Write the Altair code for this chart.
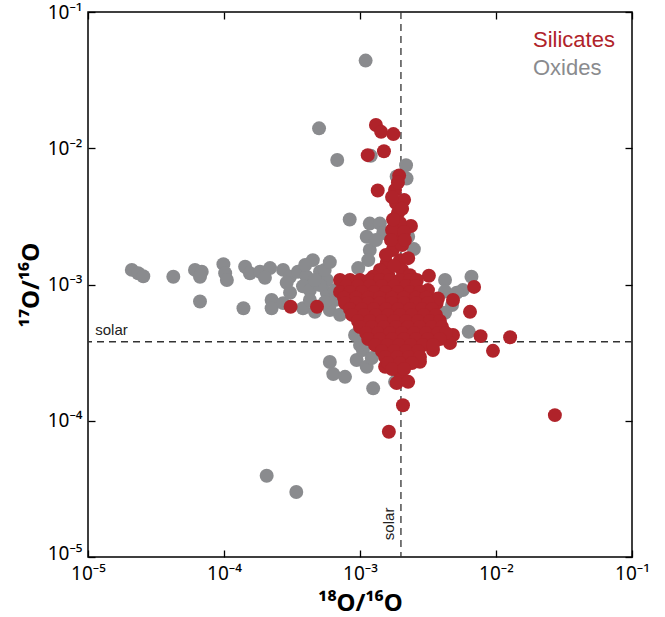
import altair as alt
import pandas as pd

# ---- data ----
oxide_x = [1.1e-3, 5.0e-4, 6.8e-4, 8.4e-4, 2.06e-4, 3.4e-4, 2.18e-3, 2.2e-3, 1.86e-3, 1.2e-3,
           2.10e-5, 2.34e-5, 2.55e-5, 4.24e-5, 6.12e-5, 6.86e-5, 6.66e-5, 6.66e-5, 0.99e-4, 1.02e-4,
           1.05e-4, 1.39e-4, 1.43e-4, 1.55e-4, 1.84e-4, 2.18e-4, 2.0e-4, 2.72e-4, 3.06e-4, 3.5e-4,
           4.5e-4, 4.05e-4, 5.08e-4, 5.7e-4, 2.89e-4, 3.81e-4, 2.24e-4, 2.24e-4, 2.72e-4, 3.06e-4,
           3.81e-4, 5.7e-4, 6.0e-4, 6.36e-4, 7.76e-4, 9.45e-4, 1.12e-3, 1.25e-3, 1.05e-3, 1.81e-3,
           1.18e-3, 1.12e-3, 1.18e-3, 1.15e-3, 1.40e-3, 1.48e-3, 2.26e-3, 2.49e-3, 9.7e-4, 5.5e-4,
           1.31e-3, 4.28e-4, 5.08e-4, 6.54e-4, 6.0e-4, 4.66e-4, 1.0e-3, 1.22e-3, 1.40e-3, 9.2e-4,
           4.22e-3, 6.6e-3, 5.7e-3, 4.22e-3, 5.14e-3, 4.22e-3, 6.3e-3, 4.75e-3,
           3.95e-4, 6.0e-4, 4.66e-4, 6.54e-4, 5.5e-4, 4.28e-4, 7.13e-4, 1.09e-3]
oxide_y = [4.4e-2, 1.40e-2, 8.2e-3, 3.0e-3, 3.95e-5, 3.0e-5, 7.5e-3, 6.0e-3, 6.2e-3, 8.8e-3,
           1.28e-3, 1.21e-3, 1.15e-3, 1.14e-3, 1.28e-3, 1.24e-3, 1.14e-3, 7.5e-4, 1.41e-3, 1.21e-3,
           1.08e-3, 6.7e-4, 1.35e-3, 1.21e-3, 1.24e-3, 1.32e-3, 1.12e-3, 1.28e-3, 1.14e-3, 1.24e-3,
           1.51e-3, 1.14e-3, 1.24e-3, 1.08e-3, 1.03e-3, 9.7e-4, 7.7e-4, 6.7e-4, 7.3e-4, 8.7e-4,
           6.7e-4, 8.7e-4, 2.7e-4, 2.2e-4, 2.1e-4, 2.79e-4, 2.49e-4, 1.73e-4, 3.3e-4, 1.93e-4,
           2.8e-3, 2.24e-3, 1.79e-3, 1.51e-3, 2.8e-3, 2.39e-3, 2.24e-3, 1.82e-3, 1.32e-3, 1.28e-3,
           2.12e-3, 9.1e-4, 9.9e-4, 7.7e-4, 6.5e-4, 6.3e-4, 3.6e-4, 2.89e-4, 3.3e-4, 4.26e-4,
           1.08e-3, 1.14e-3, 9.1e-4, 8.9e-4, 8.7e-4, 6.2e-4, 4.5e-4, 7.07e-4,
           1.39e-3, 1.46e-3, 1.08e-3, 9.1e-4, 7.4e-4, 7.7e-4, 6.0e-4, 3.78e-4]

silicate_x = [1.31e-3, 1.43e-3, 1.76e-3, 1.14e-3, 1.50e-3, 1.94e-3, 1.35e-3, 2.37e-3, 3.21e-3, 6.9e-3,
              3.66e-3, 4.83e-3, 6.44e-3, 7.7e-3, 1.27e-2, 9.5e-3, 4.83e-3, 4.59e-3, 2.71e-2, 2.07e-3,
              1.63e-3, 3.09e-4, 4.83e-4, 7.13e-4, 1.53e-3, 1.97e-3, 1.86e-3, 2.26e-3, 2.76e-3, 3.44e-3,
              3.74e-3, 1.81e-3, 1.84e-3, 1.90e-3, 1.97e-3, 1.84e-3, 1.74e-3, 2.04e-3, 1.57e-3, 1.97e-3,
              1.40e-3, 1.25e-3, 1.72e-3, 2.11e-3, 2.04e-3, 2.33e-3, 1.69e-3, 2.11e-3, 3.16e-3, 1.61e-3,
              1.90e-3, 1.72e-3, 2.04e-3, 1.75e-3, 2.14e-3, 1.55e-3, 2.26e-3, 1.78e-3,
              8.44e-4, 1.0e-3, 1.18e-3, 1.40e-3, 1.66e-3, 1.97e-3, 2.33e-3, 2.62e-3,
              7.9e-4, 9.66e-4, 1.18e-3, 1.45e-3, 1.78e-3, 2.18e-3, 2.58e-3,
              7.13e-4, 8.44e-4, 1.03e-3, 1.27e-3, 1.55e-3, 1.90e-3, 2.33e-3, 2.76e-3,
              7.63e-4, 9.36e-4, 1.15e-3, 1.40e-3, 1.72e-3, 2.11e-3, 2.58e-3, 3.06e-3,
              7.76e-4, 9.36e-4, 1.15e-3, 1.40e-3, 1.72e-3, 2.11e-3, 2.58e-3, 3.16e-3,
              8.44e-4, 1.03e-3, 1.27e-3, 1.55e-3, 1.90e-3, 2.33e-3, 2.86e-3, 3.38e-3,
              8.74e-4, 1.07e-3, 1.31e-3, 1.61e-3, 1.97e-3, 2.41e-3, 2.95e-3, 3.62e-3,
              9.66e-4, 1.18e-3, 1.45e-3, 1.78e-3, 2.18e-3, 2.67e-3, 3.27e-3, 3.87e-3,
              1.0e-3, 1.22e-3, 1.50e-3, 1.84e-3, 2.26e-3, 2.76e-3, 3.38e-3, 4.01e-3,
              1.11e-3, 1.36e-3, 1.66e-3, 2.04e-3, 2.49e-3, 3.06e-3, 3.74e-3, 4.29e-3,
              1.15e-3, 1.40e-3, 1.72e-3, 2.11e-3, 2.58e-3, 3.16e-3, 3.87e-3,
              1.29e-3, 1.59e-3, 1.94e-3, 2.37e-3, 2.90e-3, 3.44e-3,
              1.45e-3, 1.78e-3, 2.18e-3, 2.67e-3,
              1.53e-3, 1.88e-3, 2.29e-3, 2.76e-3,
              1.61e-3, 1.97e-3, 2.41e-3,
              1.72e-3, 2.11e-3]
silicate_y = [1.48e-2, 1.32e-2, 1.27e-2, 8.9e-3, 9.5e-3, 6.3e-3, 4.9e-3, 2.69e-3, 1.16e-3, 9.6e-4,
              7.3e-4, 7.7e-4, 6.3e-4, 4.18e-4, 4.1e-4, 3.26e-4, 4.26e-4, 3.72e-4, 1.10e-4, 1.30e-4,
              8.3e-5, 6.86e-4, 6.86e-4, 1.08e-3, 2.49e-4, 2.24e-4, 1.89e-4, 1.93e-4, 2.71e-4, 3.3e-4,
              7.9e-4, 4.94e-3, 3.96e-3, 3.35e-3, 2.83e-3, 2.23e-3, 1.79e-3, 1.95e-3, 1.44e-3, 1.51e-3,
              1.28e-3, 1.14e-3, 2.51e-3, 4.18e-3, 1.28e-3, 1.17e-3, 2.12e-3, 2.43e-3, 9.1e-4, 1.17e-3,
              5.6e-3, 4.39e-3, 3.6e-3, 3.0e-3, 2.12e-3, 1.65e-3, 1.56e-3, 1.37e-3,
              1.08e-3, 1.08e-3, 1.08e-3, 1.08e-3, 1.08e-3, 1.08e-3, 1.08e-3, 1.08e-3,
              9.75e-4, 9.75e-4, 9.75e-4, 9.75e-4, 9.75e-4, 9.75e-4, 9.75e-4,
              8.82e-4, 8.82e-4, 8.82e-4, 8.82e-4, 8.82e-4, 8.82e-4, 8.82e-4, 8.82e-4,
              8.0e-4, 8.0e-4, 8.0e-4, 8.0e-4, 8.0e-4, 8.0e-4, 8.0e-4, 8.0e-4,
              7.3e-4, 7.3e-4, 7.3e-4, 7.3e-4, 7.3e-4, 7.3e-4, 7.3e-4, 7.3e-4,
              6.6e-4, 6.6e-4, 6.6e-4, 6.6e-4, 6.6e-4, 6.6e-4, 6.6e-4, 6.6e-4,
              5.98e-4, 5.98e-4, 5.98e-4, 5.98e-4, 5.98e-4, 5.98e-4, 5.98e-4, 5.98e-4,
              5.4e-4, 5.4e-4, 5.4e-4, 5.4e-4, 5.4e-4, 5.4e-4, 5.4e-4, 5.4e-4,
              4.88e-4, 4.88e-4, 4.88e-4, 4.88e-4, 4.88e-4, 4.88e-4, 4.88e-4, 4.88e-4,
              4.4e-4, 4.4e-4, 4.4e-4, 4.4e-4, 4.4e-4, 4.4e-4, 4.4e-4, 4.4e-4,
              3.98e-4, 3.98e-4, 3.98e-4, 3.98e-4, 3.98e-4, 3.98e-4, 3.98e-4,
              3.6e-4, 3.6e-4, 3.6e-4, 3.6e-4, 3.6e-4, 3.6e-4,
              3.25e-4, 3.25e-4, 3.25e-4, 3.25e-4,
              2.94e-4, 2.94e-4, 2.94e-4, 2.94e-4,
              2.65e-4, 2.65e-4, 2.65e-4,
              2.4e-4, 2.4e-4]

groups = ["Silicates", "Oxides"]
colors = ["#b0232a", "#8a8b8e"]
tick_values = [1e-5, 1e-4, 1e-3, 1e-2, 1e-1]
tick_labels = ["10⁻⁵", "10⁻⁴", "10⁻³", "10⁻²", "10⁻¹"]
solar_x = 2.0e-3
solar_y = 3.8e-4
solar_label = "solar"

FONT = "Liberation Sans"
SUPFONT = "Noto Sans"

df = pd.DataFrame({
    "x": oxide_x + silicate_x,
    "y": oxide_y + silicate_y,
    "type": [groups[1]] * len(oxide_x) + [groups[0]] * len(silicate_x),
})

label_expr = "[" + ",".join(f"'{t}'" for t in tick_labels) + "][round(log(datum.value)/LN10)+5]"
legend_color_expr = f"datum.label == '{groups[0]}' ? '{colors[0]}' : '{colors[1]}'"

xs = alt.Scale(type="log", domain=[1e-5, 1e-1], nice=False)
ys = alt.Scale(type="log", domain=[1e-5, 1e-1], nice=False)

common = dict(values=tick_values, tickSize=7, offset=-7, domain=False, grid=False,
              tickColor="black", tickWidth=1.3)

bottom_axis = alt.Axis(orient="bottom", labelExpr=label_expr, labelFontSize=19, labelColor="black",
                       labelPadding=7, labelFont=SUPFONT, labelFlush=False,
                       title="¹⁸O/¹⁶O", titleFontSize=24, titleFontWeight="bold", titleFont=SUPFONT,
                       titleColor="black", titlePadding=8, **common)
left_axis = alt.Axis(orient="left", labelExpr=label_expr, labelFontSize=19, labelColor="black",
                     labelPadding=6, labelFont=SUPFONT, labelFlush=False,
                     labelOffset={"condition": {"test": "datum.value < 2e-5", "value": -4}, "value": 0},
                     title="¹⁷O/¹⁶O", titleFontSize=24, titleFontWeight="bold", titleFont=SUPFONT,
                     titleColor="black", titlePadding=4, **common)
top_axis = alt.Axis(orient="top", labels=False, title=None, **common)
right_axis = alt.Axis(orient="right", labels=False, title=None, **common)

vrule = alt.Chart(pd.DataFrame({"sx": [solar_x]})).mark_rule(
    strokeDash=[7, 5], color="#333333", strokeWidth=1.3
).encode(x=alt.X("sx:Q", scale=xs, axis=top_axis))

hrule = alt.Chart(pd.DataFrame({"sy": [solar_y]})).mark_rule(
    strokeDash=[7, 5], color="#333333", strokeWidth=1.3
).encode(y=alt.Y("sy:Q", scale=ys, axis=right_axis))

points = alt.Chart(df).mark_circle(size=195, opacity=1).encode(
    x=alt.X("x:Q", scale=xs, axis=bottom_axis),
    y=alt.Y("y:Q", scale=ys, axis=left_axis),
    color=alt.Color("type:N", scale=alt.Scale(domain=groups, range=colors),
                    legend=alt.Legend(orient="none", legendX=423, legendY=17, title=None,
                                      symbolSize=0, symbolOpacity=0, symbolStrokeWidth=0,
                                      labelFontSize=22, labelFont=FONT, labelOffset=0,
                                      labelColor={"expr": legend_color_expr},
                                      rowPadding=6, padding=0)),
)

text_h = alt.Chart(pd.DataFrame({"tx": [1.13e-5], "ty": [solar_y], "t": [solar_label]})).mark_text(
    align="left", baseline="bottom", dy=-4, fontSize=15, font=FONT, color="#222222"
).encode(x=alt.X("tx:Q", scale=xs, axis=None), y=alt.Y("ty:Q", scale=ys, axis=None), text="t:N")

text_v = alt.Chart(pd.DataFrame({"tx": [solar_x], "ty": [1.33e-5], "t": [solar_label]})).mark_text(
    align="left", baseline="bottom", angle=270, dy=-4, fontSize=15, font=FONT, color="#222222"
).encode(x=alt.X("tx:Q", scale=xs, axis=None), y=alt.Y("ty:Q", scale=ys, axis=None), text="t:N")

chart = alt.layer(vrule, hrule, points, text_h, text_v).resolve_axis(
    x="independent", y="independent"
).properties(
    width=544, height=545,
    padding={"left": 88, "top": 12, "right": 33, "bottom": 60},
    autosize=alt.AutoSizeParams(type="none"),
    background="white",
).configure_view(stroke="black", strokeWidth=1.5)

chart.save("out.html", embed_options={"renderer": "svg", "actions": False})
